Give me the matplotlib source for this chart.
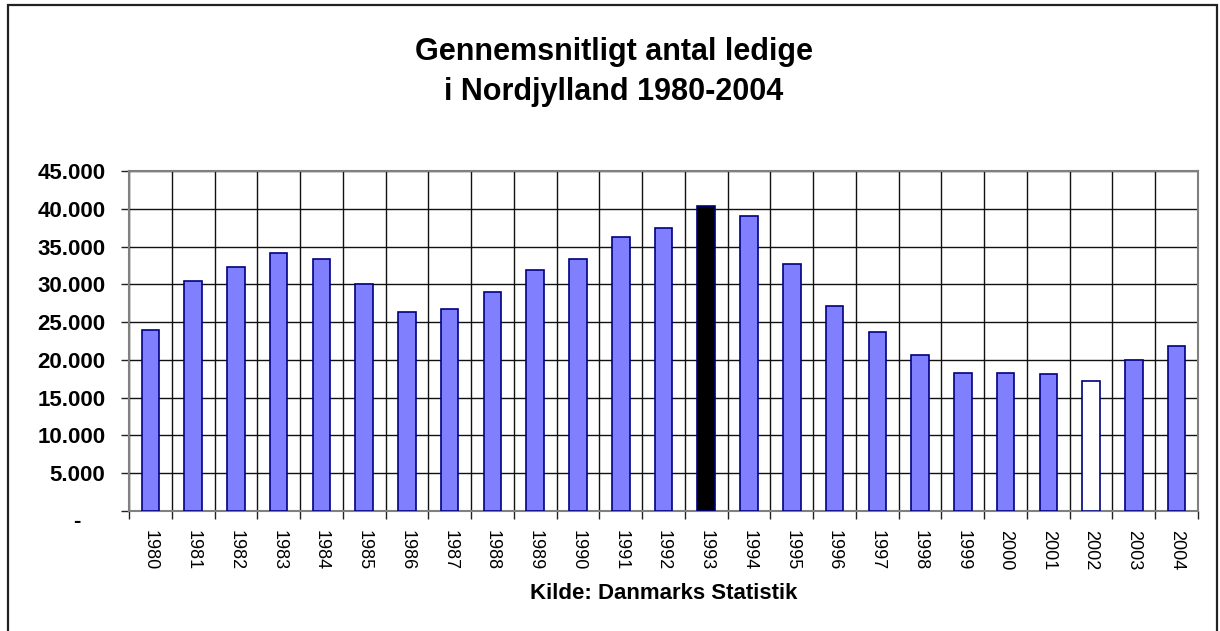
import numpy as np
import matplotlib
matplotlib.use("Agg")
import matplotlib.pyplot as plt
from matplotlib.patches import Rectangle
from matplotlib.ticker import FuncFormatter

plt.rcParams["font.family"] = ["Liberation Sans", "DejaVu Sans"]

# data
years = [str(y) for y in range(1980, 2005)]
ledige = [23900, 30400, 32250, 34200, 33300, 30100, 26300, 26800, 29000, 31900,
          33300, 36300, 37500, 40400, 39000, 32750, 27100, 23700, 20700, 18200,
          18200, 18100, 17150, 19950, 21800]
highlight = {"1993": "#000000", "2002": "#FFFFFF"}  # special bars

fig = plt.figure(figsize=(12.2, 6.31), dpi=100)
ax = fig.add_axes([129 / 1220, 1 - 511 / 631, (1198 - 129) / 1220, (511 - 171) / 631])

x = np.arange(len(years))
colors = [highlight.get(y, "#8080FF") for y in years]
ax.bar(x, ledige, width=0.41, color=colors, edgecolor="#000080", linewidth=1.2, zorder=3)

ax.set_xlim(-0.5, len(years) - 0.5)
ax.set_ylim(0, 45000)
ax.set_yticks(np.arange(0, 45001, 5000))


def fmt(v, pos):  # excel style: 45.000 and "-" for nul
    if v == 0:
        return "-"
    return f"{int(v):,}".replace(",", ".")


ax.yaxis.set_major_formatter(FuncFormatter(fmt))
ax.tick_params(axis="y", direction="out", length=6, width=1, color="#222222", pad=11)
for lab in ax.get_yticklabels():
    lab.set_fontsize(16)
    lab.set_fontweight("bold")
ax.get_yticklabels()[0].set_va("top")
ax.yaxis.get_major_ticks()[0].set_pad(29)

# boundaries get tick marks and gridlines, centres get the year labels
ax.set_xticks(np.arange(-0.5, len(years), 1))
ax.set_xticklabels([])
ax.set_xticks(x, minor=True)
ax.set_xticklabels(years, minor=True, rotation=-90, fontsize=13, va="top")
ax.tick_params(axis="x", which="major", direction="out", length=6, width=1, color="#222222")
ax.tick_params(axis="x", which="minor", length=0, pad=13.5)

ax.grid(True, which="major", color="#111111", linewidth=1, zorder=0)
ax.set_axisbelow(True)
for s in ax.spines.values():
    s.set_color("#808080")
    s.set_linewidth(1.5)

ax.set_xlabel("Kilde: Danmarks Statistik", fontsize=16, fontweight="bold", labelpad=9)

fig.text(0.503, 1 - 72 / 631, "Gennemsnitligt antal ledige\ni Nordjylland 1980-2004",
         ha="center", va="center", fontsize=22, fontweight="bold", linespacing=1.45)

# outer chart frame
fig.patches.append(Rectangle((8 / 1220, -0.1), (1217 - 8) / 1220, 1.1 - 5 / 631,
                             transform=fig.transFigure, fill=False,
                             edgecolor="#222222", linewidth=1.6))

fig.savefig("out.png", dpi=100)
